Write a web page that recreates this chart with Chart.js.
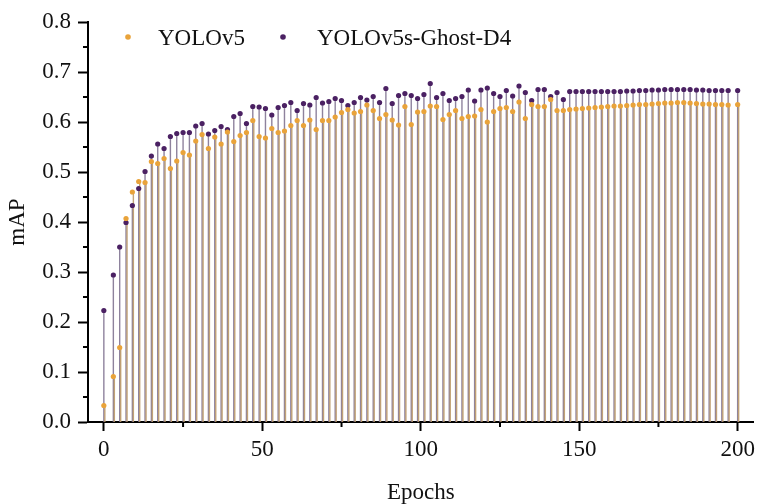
<!DOCTYPE html>
<html>
<head>
<meta charset="utf-8">
<script src="https://cdn.jsdelivr.net/npm/chart.js@4.4.0/dist/chart.umd.min.js"></script>
<style>
  html, body { margin: 0; padding: 0; background: #fff; }
  #wrap { width: 760px; height: 504px; }
</style>
</head>
<body>
<div id="wrap"><canvas id="mapChart" width="760" height="504"></canvas></div>
<script>
// epochs that were plotted
const epochs = [0,
  3, 5, 7, 9, 11, 13, 15, 17, 19, 21, 23, 25, 27, 29, 31, 33, 35, 37, 39, 41, 43, 45, 47, 49, 51, 53, 55, 57, 59,
  61, 63, 65, 67, 69, 71, 73, 75, 77, 79, 81, 83, 85, 87, 89, 91, 93, 95, 97, 99, 101, 103, 105, 107, 109, 111,
  113, 115, 117, 119, 121, 123, 125, 127, 129, 131,
  133, 135, 137, 139, 141, 143, 145, 147, 149, 151, 153, 155, 157, 159, 161, 163,
  165, 167, 169, 171, 173, 175, 177, 179, 181, 183, 185, 187, 189, 191, 193, 195, 197,
  200];

const yolov5 = [0.033, 0.091, 0.149, 0.407, 0.460, 0.481, 0.479, 0.521, 0.517, 0.527, 0.507, 0.522, 0.539, 0.534, 0.562,
  0.575, 0.547, 0.570, 0.556, 0.580, 0.561, 0.573, 0.579, 0.603, 0.571, 0.568, 0.587, 0.579, 0.582, 0.593,
  0.603, 0.593, 0.604, 0.585, 0.603, 0.603, 0.610, 0.619, 0.625, 0.618, 0.621, 0.634, 0.623, 0.607, 0.615, 0.604,
  0.594, 0.631, 0.595, 0.620, 0.621, 0.632, 0.631, 0.605, 0.615, 0.623, 0.607, 0.611, 0.612, 0.625, 0.600, 0.621,
  0.627, 0.629, 0.621, 0.640,
  0.607, 0.635, 0.631, 0.631, 0.645, 0.623, 0.623, 0.625, 0.626, 0.627, 0.628, 0.629, 0.630, 0.631, 0.632, 0.632,
  0.633, 0.634, 0.635, 0.635, 0.636, 0.637, 0.638, 0.638, 0.639, 0.639, 0.638, 0.637, 0.636, 0.636, 0.635, 0.635, 0.634,
  0.635];

const ghostD4 = [0.223, 0.294, 0.350, 0.399, 0.433, 0.467, 0.501, 0.532, 0.556, 0.547, 0.571, 0.577, 0.579, 0.579, 0.592,
  0.597, 0.576, 0.583, 0.591, 0.585, 0.611, 0.617, 0.597, 0.631, 0.630, 0.627, 0.614, 0.629, 0.633, 0.639,
  0.623, 0.637, 0.634, 0.649, 0.638, 0.641, 0.647, 0.643, 0.633, 0.639, 0.649, 0.644, 0.651, 0.639, 0.667, 0.637,
  0.653, 0.657, 0.653, 0.647, 0.655, 0.677, 0.649, 0.657, 0.643, 0.647, 0.651, 0.664, 0.642, 0.664, 0.668, 0.657,
  0.651, 0.663, 0.652, 0.672,
  0.659, 0.643, 0.665, 0.665, 0.651, 0.659, 0.645, 0.661, 0.661, 0.661, 0.661, 0.661, 0.661, 0.661, 0.661, 0.661,
  0.662, 0.662, 0.663, 0.663, 0.664, 0.664, 0.665, 0.665, 0.665, 0.665, 0.665, 0.664, 0.664, 0.663, 0.663, 0.663, 0.663,
  0.663];

const xTicks = [0, 50, 100, 150, 200];
const xMinor = [25, 75, 125, 175];
const yTicks = [0, 0.1, 0.2, 0.3, 0.4, 0.5, 0.6, 0.7, 0.8];
const yMinor = [0.05, 0.15, 0.25, 0.35, 0.45, 0.55, 0.65, 0.75];

const seriesNames = ["YOLOv5", "YOLOv5s-Ghost-D4"];

const FONT = '"Liberation Serif", "Times New Roman", serif';
const ORANGE = "#e9a33a";
const PURPLE = "#4b2163";

const toPoints = vals => epochs.map((e, i) => ({ x: e, y: vals[i] }));

// vertical stems from each point down to zero
const stemPlugin = {
  id: "stems",
  beforeDatasetsDraw(chart) {
    const ctx = chart.ctx;
    const yScale = chart.scales.y;
    const base = yScale.getPixelForValue(0);
    const order = [1, 0];
    order.forEach(di => {
      const ds = chart.data.datasets[di];
      const meta = chart.getDatasetMeta(di);
      ctx.save();
      ctx.strokeStyle = ds.stemColor;
      ctx.lineWidth = 1.4;
      meta.data.forEach(pt => {
        const x = pt.x + ds.stemOffset;
        ctx.beginPath();
        ctx.moveTo(x, pt.y);
        ctx.lineTo(x, base);
        ctx.stroke();
      });
      ctx.restore();
    });
  }
};

// minor tick marks on both axes
const minorTicks = {
  id: "minorTicks",
  afterDraw(chart) {
    const ctx = chart.ctx;
    const xs = chart.scales.x, ys = chart.scales.y;
    ctx.save();
    ctx.strokeStyle = "#000";
    ctx.lineWidth = 2;
    xMinor.forEach(v => {
      const px = xs.getPixelForValue(v);
      ctx.beginPath();
      ctx.moveTo(px, xs.top);
      ctx.lineTo(px, xs.top + 5);
      ctx.stroke();
    });
    yMinor.forEach(v => {
      const py = ys.getPixelForValue(v);
      ctx.beginPath();
      ctx.moveTo(ys.right, py);
      ctx.lineTo(ys.right - 5, py);
      ctx.stroke();
    });
    ctx.restore();
  }
};

// legend inside the plot, top left
const innerLegend = {
  id: "innerLegend",
  afterDraw(chart) {
    const ctx = chart.ctx;
    const items = [
      { dot: 128, text: 158, color: ORANGE },
      { dot: 283, text: 317, color: PURPLE }
    ];
    ctx.save();
    ctx.font = "23px " + FONT;
    ctx.textBaseline = "alphabetic";
    items.forEach((it, i) => {
      ctx.beginPath();
      ctx.arc(it.dot, 37, 2.8, 0, Math.PI * 2);
      ctx.fillStyle = it.color;
      ctx.fill();
      ctx.fillStyle = "#111";
      ctx.fillText(seriesNames[i], it.text, 45);
    });
    ctx.restore();
  }
};

new Chart(document.getElementById("mapChart"), {
  type: "scatter",
  data: {
    datasets: [
      {
        label: seriesNames[0],
        data: toPoints(yolov5),
        backgroundColor: ORANGE,
        borderColor: ORANGE,
        pointRadius: 2.6,
        pointBorderWidth: 0,
        stemColor: "rgba(188,154,104,0.9)",
        stemOffset: 1
      },
      {
        label: seriesNames[1],
        data: toPoints(ghostD4),
        backgroundColor: PURPLE,
        borderColor: PURPLE,
        pointRadius: 2.6,
        pointBorderWidth: 0,
        stemColor: "rgba(122,108,140,0.85)",
        stemOffset: 0
      }
    ]
  },
  options: {
    responsive: false,
    animation: false,
    layout: { padding: { top: 22, right: 3, left: 0, bottom: 0 } },
    plugins: {
      legend: { display: false },
      tooltip: { enabled: false }
    },
    scales: {
      x: {
        type: "linear",
        min: -5,
        max: 205,
        afterBuildTicks: s => { s.ticks = xTicks.map(v => ({ value: v })); },
        afterFit: s => { s.height = 82; },
        border: { color: "#000", width: 2 },
        grid: { drawOnChartArea: false, tickLength: 9, tickColor: "#000", tickWidth: 2 },
        ticks: { color: "#111", padding: 5, font: { family: FONT, size: 23 } },
        title: {
          display: true,
          text: "Epochs",
          color: "#111",
          padding: { top: 0, bottom: 0 },
          font: { family: FONT, size: 23, lineHeight: 1 }
        }
      },
      y: {
        min: 0,
        max: 0.8,
        afterBuildTicks: s => { s.ticks = yTicks.map(v => ({ value: v })); },
        afterFit: s => { s.width = 88; },
        border: { color: "#000", width: 2 },
        grid: { drawOnChartArea: false, tickLength: 10, tickColor: "#000", tickWidth: 2 },
        ticks: {
          color: "#111",
          padding: 7,
          font: { family: FONT, size: 23 },
          callback: v => v.toFixed(1)
        },
        title: {
          display: true,
          text: "mAP",
          color: "#111",
          padding: { top: 6, bottom: 0 },
          font: { family: FONT, size: 23, lineHeight: 1 }
        }
      }
    }
  },
  plugins: [stemPlugin, minorTicks, innerLegend]
});
</script>
</body>
</html>
